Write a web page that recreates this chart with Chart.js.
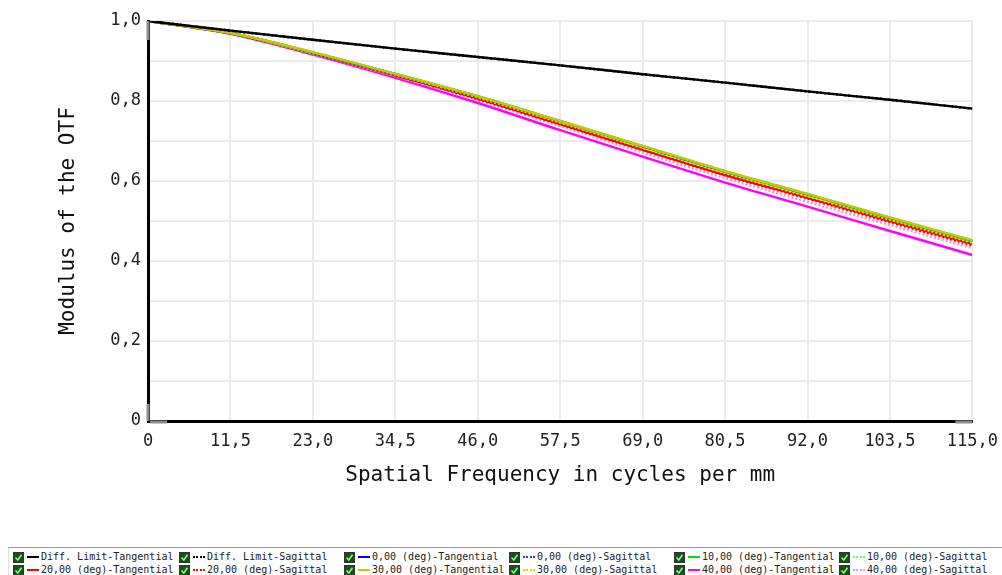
<!DOCTYPE html>
<html>
<head>
<meta charset="utf-8">
<script src="https://cdn.jsdelivr.net/npm/chart.js@4"></script>
<style>
  body { margin: 0; background: #fff; width: 1002px; height: 575px; overflow: hidden; position: relative; }
  #wrap { position: absolute; left: 0; top: 0; width: 1008px; height: 547px; }
  #legend {
    position: absolute; left: 8px; top: 547px; width: 994px; height: 28px;
    border-top: 1px solid #999; border-left: 1px solid #ddd;
    font-family: "DejaVu Sans Mono", monospace; font-size: 10px; color: #222;
  }
  .item { position: absolute; height: 14px; line-height: 14px; white-space: nowrap; }
  .box { position: absolute; left: 0; top: 2px; width: 9px; height: 9px; background: #1d4d1d; border: 1px solid #333; }
  .box svg { position: absolute; left: 0; top: 0; }
  .sample { position: absolute; left: 14px; top: 6px; width: 12px; height: 0; }
  .txt { position: absolute; left: 28px; top: 0; }
</style>
</head>
<body>
<div id="wrap"><canvas id="myChart" width="1008" height="547"></canvas></div>
<div id="legend"></div>
<script>
// spatial frequency samples (cycles per mm)
const freqs = [0, 11.5, 23, 34.5, 46, 57.5, 69, 80.5, 92, 103.5, 115];
const xTickLabels = ["0", "11,5", "23,0", "34,5", "46,0", "57,5", "69,0", "80,5", "92,0", "103,5", "115,0"];
const yTickLabels = ["0", "0,2", "0,4", "0,6", "0,8", "1,0"];

// MTF values
const diffLimitT = [1, 0.976, 0.953, 0.931, 0.910, 0.889, 0.867, 0.846, 0.824, 0.803, 0.781];
const diffLimitS = [1, 0.976, 0.953, 0.931, 0.910, 0.889, 0.867, 0.846, 0.824, 0.803, 0.781];
const deg0T = [1, 0.970, 0.921, 0.867, 0.811, 0.749, 0.686, 0.623, 0.566, 0.507, 0.450];
const deg0S = [1, 0.970, 0.921, 0.867, 0.811, 0.749, 0.686, 0.623, 0.566, 0.507, 0.450];
const deg10T = [1, 0.970, 0.921, 0.868, 0.812, 0.750, 0.687, 0.624, 0.567, 0.508, 0.451];
const deg10S = [1, 0.970, 0.920, 0.867, 0.810, 0.748, 0.685, 0.622, 0.564, 0.505, 0.448];
const deg20T = [1, 0.969, 0.919, 0.864, 0.806, 0.742, 0.678, 0.615, 0.558, 0.500, 0.443];
const deg20S = [1, 0.969, 0.919, 0.864, 0.805, 0.742, 0.678, 0.614, 0.556, 0.497, 0.439];
const deg30T = [1, 0.970, 0.922, 0.868, 0.812, 0.750, 0.688, 0.625, 0.568, 0.509, 0.452];
const deg30S = [1, 0.970, 0.920, 0.866, 0.809, 0.746, 0.683, 0.620, 0.562, 0.503, 0.446];
const deg40T = [1, 0.968, 0.916, 0.858, 0.795, 0.727, 0.661, 0.596, 0.536, 0.475, 0.415];
const deg40S = [1, 0.969, 0.918, 0.862, 0.802, 0.737, 0.671, 0.607, 0.548, 0.490, 0.432];

const seriesNames = [
  "Diff. Limit-Tangential", "Diff. Limit-Sagittal",
  "0,00 (deg)-Tangential", "0,00 (deg)-Sagittal",
  "10,00 (deg)-Tangential", "10,00 (deg)-Sagittal",
  "20,00 (deg)-Tangential", "20,00 (deg)-Sagittal",
  "30,00 (deg)-Tangential", "30,00 (deg)-Sagittal",
  "40,00 (deg)-Tangential", "40,00 (deg)-Sagittal",
];
const seriesValues = [diffLimitT, diffLimitS, deg0T, deg0S, deg10T, deg10S, deg20T, deg20S, deg30T, deg30S, deg40T, deg40S];
const seriesColors = ["#000000", "#000000", "#0000ff", "#3333ff", "#00e000", "#66ff66", "#ff0000", "#ff0000", "#c8c800", "#dada00", "#ff00ff", "#ff88ff"];
// lower order is drawn on top
const drawOrder = [0, 1, 5, 6, 2, 4, 7, 8, 1, 3, 10, 9];

const toPoints = (vals) => vals.map((v, i) => ({ x: freqs[i], y: v }));

const datasets = seriesNames.map((name, i) => ({
  label: name,
  data: toPoints(seriesValues[i]),
  borderColor: seriesColors[i],
  borderWidth: 2.4,
  borderDash: i % 2 === 1 ? [2, 2] : [],
  pointRadius: 0,
  cubicInterpolationMode: "monotone",
  order: drawOrder[i],
}));

// gray ends on the axis lines
const axisEnds = {
  id: "axisEnds",
  afterDraw(chart) {
    const { ctx, chartArea } = chart;
    const { left, right, top, bottom } = chartArea;
    ctx.save();
    ctx.strokeStyle = "#8c8c8c";
    ctx.lineWidth = 3;
    ctx.beginPath();
    ctx.moveTo(left, top); ctx.lineTo(left, top + 19);
    ctx.moveTo(left, bottom - 17); ctx.lineTo(left, bottom);
    ctx.moveTo(left + 2, bottom + 1); ctx.lineTo(left + 19, bottom + 1);
    ctx.moveTo(right - 17, bottom + 1); ctx.lineTo(right, bottom + 1);
    ctx.stroke();
    ctx.restore();
  },
};

const monoFont = "'DejaVu Sans Mono', monospace";

const ctx = document.querySelector("#myChart").getContext("2d");
const chart = new Chart(ctx, {
  type: "line",
  data: { datasets },
  options: {
    responsive: false,
    animation: false,
    layout: { padding: { left: 0, right: 24, top: 21, bottom: 46 } },
    plugins: { legend: { display: false }, tooltip: { enabled: false } },
    scales: {
      x: {
        type: "linear",
        min: 0,
        max: 115,
        afterBuildTicks: (scale) => {
          scale.ticks = freqs.map((f) => ({ value: f }));
        },
        afterFit: (scale) => { scale.height = 80; },
        grid: { color: "#ebebeb", lineWidth: 2, drawTicks: false },
        border: { color: "#000", width: 3 },
        ticks: {
          padding: 10,
          maxRotation: 0,
          color: "#222",
          font: { family: monoFont, size: 17 },
          callback: (v, i) => xTickLabels[i],
        },
        title: {
          display: true,
          text: "Spatial Frequency in cycles per mm",
          color: "#111",
          font: { family: monoFont, size: 21 },
          padding: { top: 0, bottom: 13 },
        },
      },
      y: {
        min: 0,
        max: 1,
        ticks: {
          stepSize: 0.1,
          padding: 7,
          color: "#222",
          font: { family: monoFont, size: 17 },
          callback: (v, i) => (i % 2 === 0 ? yTickLabels[i / 2] : ""),
        },
        afterFit: (scale) => { scale.width = 148; },
        grid: { color: "#ebebeb", lineWidth: 2, drawTicks: false },
        border: { color: "#000", width: 3 },
        title: {
          display: true,
          text: "Modulus of the OTF",
          color: "#111",
          font: { family: monoFont, size: 21 },
          padding: { top: 56, bottom: 0 },
        },
      },
    },
  },
  plugins: [axisEnds],
});

// legend in six columns, two rows, like the original
const legend = document.querySelector("#legend");
const colLeft = [4, 170, 335, 500, 665, 830];
chart.data.datasets.forEach((ds, i) => {
  const item = document.createElement("div");
  item.className = "item";
  const row = i < 6 ? 0 : 1;
  item.style.left = colLeft[i % 6] + "px";
  item.style.top = (2 + row * 13) + "px";
  const box = document.createElement("span");
  box.className = "box";
  box.innerHTML = '<svg width="9" height="9"><polyline points="1.5,4.5 3.8,7 7.5,1.8" fill="none" stroke="#7dff7d" stroke-width="1.6"/></svg>';
  const sample = document.createElement("span");
  sample.className = "sample";
  sample.style.borderTop = ds.borderDash.length ? `2px dotted ${ds.borderColor}` : `2px solid ${ds.borderColor}`;
  const txt = document.createElement("span");
  txt.className = "txt";
  txt.textContent = ds.label;
  item.append(box, sample, txt);
  legend.append(item);
});
</script>
</body>
</html>
